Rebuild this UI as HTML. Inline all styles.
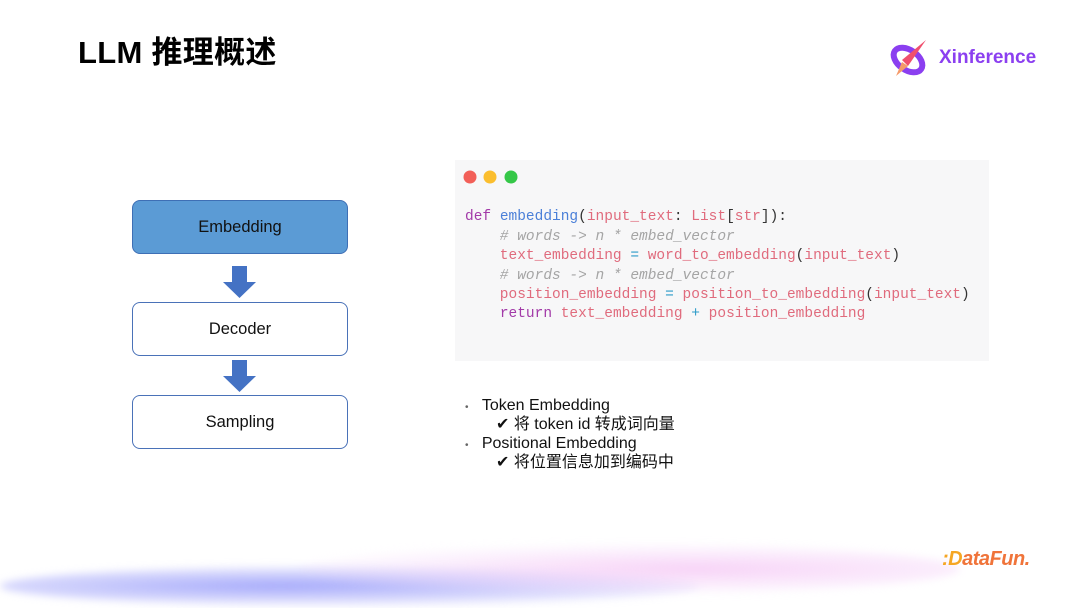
<!DOCTYPE html>
<html><head><meta charset="utf-8"><style>
*{margin:0;padding:0;box-sizing:border-box}
body{width:1080px;height:608px;background:#fff;position:relative;overflow:hidden;font-family:"Liberation Sans","Noto Sans CJK SC",sans-serif}
.abs{position:absolute}
.box{position:absolute;left:132px;width:216px;height:54px;border:1.5px solid #4a72b8;border-radius:8px;display:flex;align-items:center;justify-content:center;font-size:16.5px;color:#111;background:#fff}
.code{position:absolute;left:455px;top:160px;width:534px;height:201px;background:#f7f7f8}
.ln{position:absolute;left:465px;font-family:"Liberation Mono",monospace;font-size:14.5px;line-height:18px;white-space:pre;color:#e06b7d}
.k{color:#a23aa8}.f{color:#4a7fd8}.c{color:#a5a5a5;font-style:italic}.o{color:#2c9bc8}.p{color:#333}
.bl{position:absolute;font-size:16px;line-height:19px;height:19px;color:#111;white-space:nowrap}
</style></head><body>
<div class="abs" style="left:78px;top:35px;font-size:31px;line-height:36px;font-weight:bold;color:#000;letter-spacing:0.3px">LLM 推理概述</div>
<svg class="abs" style="left:888px;top:36px" width="48" height="44" viewBox="0 0 48 44">
<ellipse cx="20" cy="24" rx="16" ry="10" fill="none" stroke="#8b3ff0" stroke-width="6" transform="rotate(35 20 24)"/>
<polygon points="38,4 20,30 14,24" fill="#f0506e"/>
<polygon points="14,26 20,30 8,40" fill="#f59a6a"/>
</svg>
<div class="abs" style="left:939px;top:47px;font-size:19px;font-weight:bold;color:#8b3ff0">Xinference</div>

<div class="box" style="top:200px;background:#5b9bd5;border-color:#3e6fb5">Embedding</div>
<div class="box" style="top:302px">Decoder</div>
<div class="box" style="top:395px">Sampling</div>
<svg class="abs" style="left:220px;top:264px" width="40" height="130">
<polygon points="12,2 27,2 27,18 36,18 19.5,34 3,18 12,18" fill="#4472c4"/>
<polygon points="12,96 27,96 27,112 36,112 19.5,128 3,112 12,112" fill="#4472c4"/>
</svg>

<div class="code"></div>
<svg class="abs" style="left:460px;top:168px" width="70" height="18">
<circle cx="10" cy="9" r="6.5" fill="#f25f58"/><circle cx="30" cy="9" r="6.5" fill="#fbbe2e"/><circle cx="51" cy="9" r="6.5" fill="#35c748"/></svg>
<div class="ln" style="top:208px"><span class="k">def</span> <span class="f">embedding</span><span class="p">(</span>input_text<span class="p">:</span> List<span class="p">[</span>str<span class="p">]):</span></div>
<div class="ln c" style="top:228px">    # words -> n * embed_vector</div>
<div class="ln" style="top:247px">    text_embedding <span class="o">=</span> word_to_embedding<span class="p">(</span>input_text<span class="p">)</span></div>
<div class="ln c" style="top:267px">    # words -> n * embed_vector</div>
<div class="ln" style="top:286px">    position_embedding <span class="o">=</span> position_to_embedding<span class="p">(</span>input_text<span class="p">)</span></div>
<div class="ln" style="top:305px">    <span class="k">return</span> text_embedding <span class="o">+</span> position_embedding</div>

<div class="bl" style="left:465px;top:396px"><span style="font-size:10px;color:#666">•</span>&nbsp;&nbsp;&nbsp;Token Embedding</div>
<div class="bl" style="left:496px;top:415px">✔ 将 token id 转成词向量</div>
<div class="bl" style="left:465px;top:434px"><span style="font-size:10px;color:#666">•</span>&nbsp;&nbsp;&nbsp;Positional Embedding</div>
<div class="bl" style="left:496px;top:453px">✔ 将位置信息加到编码中</div>

<div class="abs" style="left:0px;top:566px;width:700px;height:40px;border-radius:50%;background:radial-gradient(ellipse at 40% 50%,rgba(150,155,250,0.85),rgba(180,180,250,0.35) 60%,rgba(255,255,255,0) 78%);filter:blur(4px)"></div>
<div class="abs" style="left:300px;top:544px;width:660px;height:50px;border-radius:50%;background:radial-gradient(ellipse at 60% 50%,rgba(245,200,245,0.8),rgba(245,215,250,0.3) 55%,rgba(255,255,255,0) 78%);filter:blur(4px)"></div>
<div class="abs" style="left:942px;top:548px;font-size:20px;font-weight:bold;font-style:italic;color:#f5a623;letter-spacing:-0.5px">:D<span style="color:#f0743a">ataFun.</span></div>
</body></html>
